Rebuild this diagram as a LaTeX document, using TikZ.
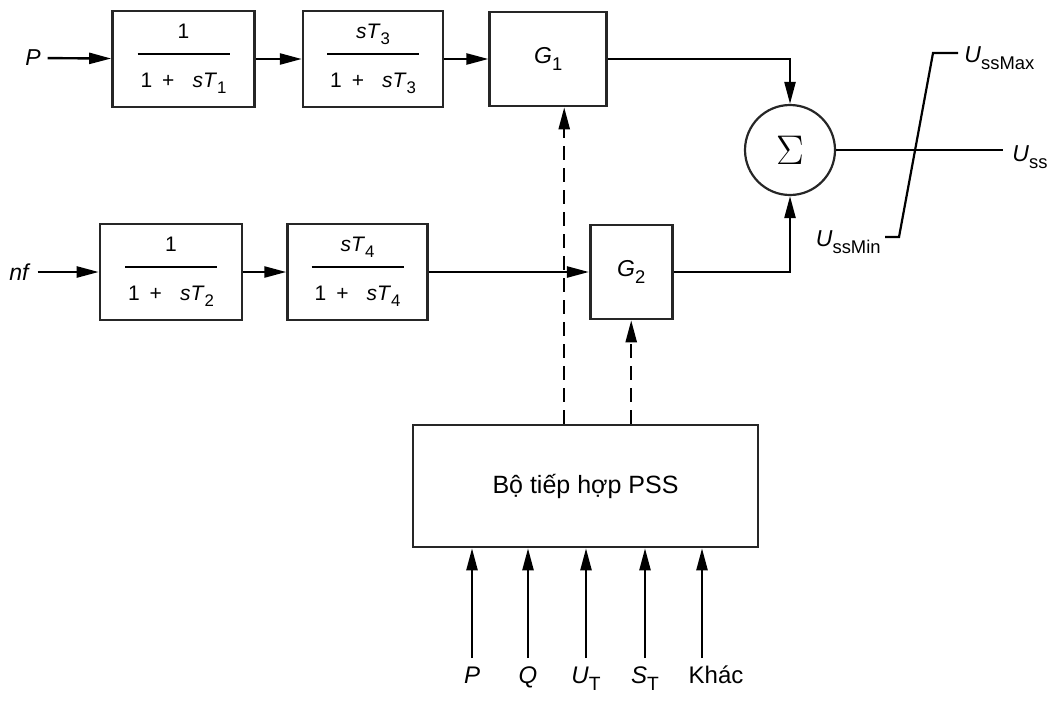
\documentclass[tikz,border=0pt]{standalone}
\usepackage{amsmath}
\usepackage{graphicx}
\usepackage{fontspec}
\setmainfont{Liberation Sans}
\usetikzlibrary{positioning, calc, arrows.meta}

% large, lowered subscripts as in the scanned figure
\newcommand{\lowsub}[1]{\raisebox{-0.55ex}{\scalebox{0.8}{#1}}}
% transfer function with a thick fraction bar
\newcommand{\blockfrac}[2]{%
    $\genfrac{}{}{1.1pt}{0}{\text{#1}\rule[-4pt]{0pt}{4pt}}{\text{\makebox[46pt]{#2}}\rule{0pt}{13pt}}$}
\newcommand{\lagden}[1]{1\hspace{5pt}+\hspace{9pt}\textit{sT}\lowsub{#1}}

\begin{document}
\begin{tikzpicture}[
    x=0.5pt, y=-0.5pt,
    >={Triangle[length=11pt, width=5.5pt]},
    font=\fontsize{11.5}{13}\selectfont,
    % Transfer function blocks
    tfblock/.style={
        draw=black!85,
        line width=1.3pt,
        rectangle,
        minimum width=71pt,
        minimum height=48pt,
        inner sep=0pt,
        font=\fontsize{10.5}{12}\selectfont
    },
    % Gain blocks G1, G2
    gainblock/.style={
        draw=black!85,
        line width=1.3pt,
        rectangle,
        minimum height=47pt,
        inner sep=0pt
    },
    sumcircle/.style={
        draw=black!85,
        line width=1.1pt,
        circle,
        minimum size=45pt,
        inner sep=0pt,
        font=\huge
    },
    in_label/.style={text height=0.75em, text depth=0.25em, inner sep=1pt, font=\fontsize{12}{14}\selectfont},
    arrow/.style={->, line width=1.2pt},
    dashed_arrow/.style={->, line width=1.2pt, dash pattern=on 7pt off 4pt},
    signal/.style={line width=1.1pt}
]
    \useasboundingbox (0,0) rectangle (1052,702);

    % ==========================================
    % 1. POWER CHANNEL (TOP ROW)
    % ==========================================

    \node (p_in) at (33,58) {\textit{P}};

    \node (lag1) [tfblock] at (183.5,59) {\blockfrac{1}{\lagden{1}}};

    \node (wash1) [tfblock, minimum width=70pt, right=23pt of lag1] {
        \blockfrac{\textit{sT}\lowsub{3}}{\lagden{3}}
    };

    \node (g1) [gainblock, minimum width=58.5pt, right=22pt of wash1] {\textit{G}\lowsub{1}};

    \draw [arrow] (p_in) -- (lag1);
    \draw [arrow] (lag1) -- (wash1);
    \draw [arrow] (wash1) -- (g1);

    % ==========================================
    % 2. SPEED / FREQUENCY CHANNEL (BOTTOM ROW)
    % ==========================================

    \node (nf_in) at (20,272) {\textit{nf}};

    \node (lag2) [tfblock] at (171,272) {\blockfrac{1}{\lagden{2}}};

    \node (wash2) [tfblock, minimum width=70pt, right=21.5pt of lag2] {
        \blockfrac{\textit{sT}\lowsub{4}}{\lagden{4}}
    };

    \node (g2) [gainblock, minimum width=41pt, right=80pt of wash2] {\textit{G}\lowsub{2}};

    \draw [arrow] (nf_in) -- (lag2);
    \draw [arrow] (lag2) -- (wash2);
    \draw [arrow] (wash2) -- (g2);

    % ==========================================
    % 3. SUMMATION AND OUTPUT LIMITER
    % ==========================================

    \node (sum) [sumcircle] at (790,150) {$\Sigma$};

    \draw [arrow] (g1.east) -| (sum.north);
    \draw [arrow] (g2.east) -| (sum.south);

    \coordinate (uss_end) at (1003,150);
    \draw [signal] (sum.east) -- (uss_end);
    \node (uss) [anchor=west, inner sep=1pt] at (1010,157) {\textit{U}\lowsub{ss}};

    % limiter characteristic
    \draw [signal] (885,237) -- (899,237) -- (933,53) -- (958,53);
    \node (uss_max) [anchor=west, inner sep=1pt] at (962,58) {\textit{U}\lowsub{ssMax}};
    \node (uss_min) [anchor=east, inner sep=1pt] at (883,242) {\textit{U}\lowsub{ssMin}};

    % ==========================================
    % 4. PSS ADAPTER
    % ==========================================

    \node (pss) [draw=black!85, line width=1.3pt, minimum width=172.5pt, minimum height=61pt,
        font=\fontsize{12.5}{14}\selectfont] at (585.5,486) {Bộ tiếp hợp PSS\hspace{12pt}};

    \coordinate (g1_tap) at ([xshift=8pt]g1.south);
    \draw [dashed_arrow] (pss.north -| g1_tap) -- (g1_tap);
    \draw [dashed_arrow] (pss.north -| g2.south) -- (g2.south);

    % measured inputs
    \foreach \xpos/\lbl/\nm/\dx in {472/\textit{P}/p/0, 528/\textit{Q}/q/0,
        586/\textit{U}\lowsub{T}/ut/0, 645/\textit{S}\lowsub{T}/st/0, 702/Khác/other/7} {
        \coordinate (src_\nm) at (\xpos,658);
        \node (in_\nm) [in_label, below=4pt of src_\nm, xshift=\dx pt] {\lbl};
        \draw [arrow] (src_\nm) -- (src_\nm |- pss.south);
    }

\end{tikzpicture}
\end{document}
